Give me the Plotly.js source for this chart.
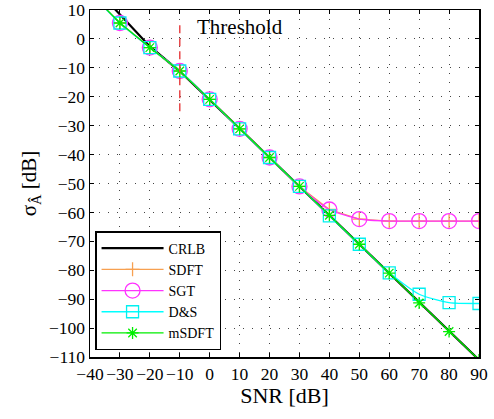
<!DOCTYPE html>
<html>
<head>
<meta charset="utf-8">
<script src="https://cdn.plot.ly/plotly-3.0.1.min.js"></script>
<style>html,body{margin:0;padding:0;background:#fff;}#chart{width:494px;height:419px;}</style>
</head>
<body>
<div id="chart"></div>
<script>
// SNR values [dB]
const snr = [-40, -30, -20, -10, 0, 10, 20, 30, 40, 50, 60, 70, 80, 90];
// CRLB curve
const crlbSnr = [-40, -30, -20, -10, 0, 10, 20, 30, 40, 50, 60, 70, 80, 90];
const crlb = [19.5, 8.3, -2.6, -11.2, -21, -31, -41, -51, -61, -71, -81, -91, -101, -111];
// Estimators
const sdft = [16, 5.5, -3, -11.1, -20.9, -31.1, -41, -51, -59, -62.3, -63, -63, -63, -63];
const sgt = [16, 5.5, -3, -11.1, -20.9, -31.1, -41, -51, -59, -62.3, -63, -63, -63, -63];
const ds = [16, 5.5, -3, -11.1, -20.9, -31.1, -41, -51, -61.2, -71, -80.9, -88.3, -91.2, -91.5];
const msdft = [16, 5.5, -3, -11.1, -20.9, -31.1, -41, -51, -61, -71, -81, -91.3, -101.2, -111];
// Threshold marker
const thresholdSNR = -10;
const thresholdSpan = [-25, 5];
const thresholdLabel = "Threshold";
const thresholdLabelPos = [-5, 4];

const serif = "'Liberation Serif', 'Times New Roman', Times, serif";

const traces = [
  {x: crlbSnr, y: crlb, name: "CRLB", mode: "lines", line: {color: "#000000", width: 2.2}},
  {x: snr, y: sdft, name: "SDFT", mode: "lines+markers", line: {color: "#f7a050", width: 1.3},
   marker: {symbol: "cross-thin-open", size: 10, line: {color: "#ff7f0e", width: 1.3}}},
  {x: snr, y: sgt, name: "SGT", mode: "lines+markers", line: {color: "#ff33ff", width: 1.3, shape: "spline", smoothing: 0.6},
   marker: {symbol: "circle-open", size: 15, color: "#ff33ff", line: {width: 1.3}}},
  {x: snr, y: ds, name: "D&S", mode: "lines+markers", line: {color: "#00ffff", width: 1.3, shape: "spline", smoothing: 0.6},
   marker: {symbol: "square-open", size: 12, color: "#00f0f0", line: {width: 1.3}}},
  {x: snr, y: msdft, name: "mSDFT", mode: "lines+markers", line: {color: "#00ee00", width: 1.3},
   marker: {symbol: "asterisk-open", size: 10, color: "#00ee00", line: {color: "#00ee00", width: 1.3}}}
];

const axisCommon = {
  showline: true, linecolor: "#000", linewidth: 1.5, mirror: "ticks",
  ticks: "inside", ticklen: 4, tickcolor: "#000", tickwidth: 1,
  showgrid: true, gridcolor: "#444", gridwidth: 1, griddash: "1px,8px",
  zeroline: false, tickfont: {family: serif, size: 17.5, color: "#000"}
};

const layout = {
  width: 494, height: 419,
  margin: {l: 90, r: 15, t: 10, b: 62},
  paper_bgcolor: "#fff", plot_bgcolor: "#fff",
  showlegend: true,
  xaxis: Object.assign({}, axisCommon, {range: [-40, 90], dtick: 10, tick0: 0, tickangle: 0,
    title: {text: "SNR [dB]", font: {family: serif, size: 22, color: "#000"}, standoff: 4}}),
  yaxis: Object.assign({}, axisCommon, {range: [-110, 10], dtick: 10, tick0: 0,
    title: {text: "σ<sub>Â</sub> [dB]", font: {family: serif, size: 21, color: "#000"}, standoff: 6}}),
  legend: {x: 0.013, y: 0.02, xanchor: "left", yanchor: "bottom",
    bgcolor: "#fff", bordercolor: "#000", borderwidth: 1.5,
    font: {family: serif, size: 14, color: "#000"}, itemwidth: 62, tracegroupgap: 0},
  shapes: [{type: "line", xref: "x", yref: "y", x0: thresholdSNR, x1: thresholdSNR,
    y0: thresholdSpan[0], y1: thresholdSpan[1], line: {color: "#e8484a", width: 1.5, dash: "8px,5px"}}],
  annotations: [{x: thresholdLabelPos[0], y: thresholdLabelPos[1], xref: "x", yref: "y",
    text: thresholdLabel, showarrow: false, xanchor: "left", yanchor: "middle",
    font: {family: serif, size: 21, color: "#000"}}]
};

Plotly.newPlot("chart", traces, layout, {displayModeBar: false, staticPlot: true});
</script>
</body>
</html>
